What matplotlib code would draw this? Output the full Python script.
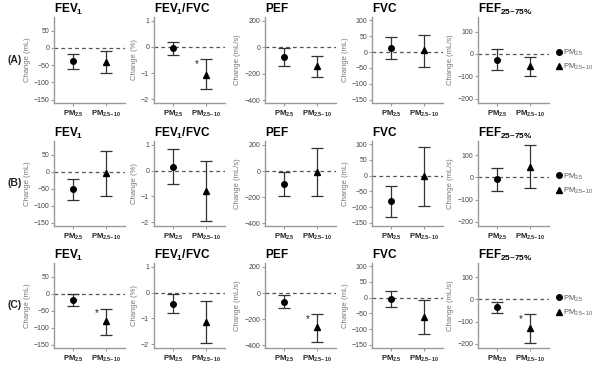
import matplotlib
matplotlib.use("Agg")
import matplotlib.pyplot as plt
from matplotlib.lines import Line2D

plt.rcParams['font.family'] = ['Liberation Sans', 'DejaVu Sans']
plt.rcParams['mathtext.fontset'] = 'custom'
plt.rcParams['mathtext.rm'] = 'Liberation Sans'
plt.rcParams['mathtext.bf'] = 'Liberation Sans:bold'

outcomes = ["FEV1", "FEV1/FVC", "PEF", "FVC", "FEF25-75%"]
titles = [r"$\mathbf{FEV_1}$", r"$\mathbf{FEV_1/FVC}$", r"$\mathbf{PEF}$",
          r"$\mathbf{FVC}$", r"$\mathbf{FEF_{25\mathrm{-}75\%}}$"]
ylabels = ["Change (mL)", "Change (%)", "Change (mL/s)", "Change (mL)", "Change (mL/s)"]
row_labels = ["(A)", "(B)", "(C)"]
pollutants = [r"$\mathbf{PM_{2.5}}$", r"$\mathbf{PM_{2.5\mathrm{-}10}}$"]
legend_labels = [r"PM$_{2.5}$", r"PM$_{2.5\mathrm{-}10}$"]

yticks = [[-150, -100, -50, 0, 50], [-2, -1, 0, 1], [-400, -200, 0, 200],
          [-150, -100, -50, 0, 50, 100], [-200, -100, 0, 100]]
ylims = [(-160, 90), (-2.15, 1.15), (-420, 230), (-160, 110), (-220, 165)]

# Row A
a_pm25_est = [-39, -0.05, -73, 14, -27]
a_pm25_lo = [-61, -0.29, -144, -21, -73]
a_pm25_hi = [-19, 0.20, -8, 47, 21]
a_pm10_est = [-40, -1.06, -137, 5, -55]
a_pm10_lo = [-74, -1.63, -220, -47, -100]
a_pm10_hi = [-8, -0.48, -61, 55, -12]
a_star = [False, True, False, False, False]

# Row B
b_pm25_est = [-52, 0.15, -97, -81, -9]
b_pm25_lo = [-83, -0.53, -192, -131, -62]
b_pm25_hi = [-22, 0.84, -8, -33, 43]
b_pm10_est = [-4, -0.78, -8, 0, 47]
b_pm10_lo = [-72, -1.95, -192, -97, -50]
b_pm10_hi = [62, 0.37, 180, 91, 147]
b_star = [False, False, False, False, False]

# Row C
c_pm25_est = [-19, -0.43, -66, -3, -36]
c_pm25_lo = [-36, -0.81, -116, -30, -61]
c_pm25_hi = [-2, -0.04, -15, 21, -10]
c_pm10_est = [-81, -1.15, -263, -62, -129]
c_pm10_lo = [-122, -1.96, -372, -116, -197]
c_pm10_hi = [-44, -0.34, -157, -7, -67]
c_star = [True, False, True, False, True]

rows = [
    (a_pm25_est, a_pm25_lo, a_pm25_hi, a_pm10_est, a_pm10_lo, a_pm10_hi, a_star),
    (b_pm25_est, b_pm25_lo, b_pm25_hi, b_pm10_est, b_pm10_lo, b_pm10_hi, b_star),
    (c_pm25_est, c_pm25_lo, c_pm25_hi, c_pm10_est, c_pm10_lo, c_pm10_hi, c_star),
]

W, H = 600, 370
fig = plt.figure(figsize=(6, 3.7), dpi=100)

col_left = [54, 154, 265, 372, 478]
col_w = 71
row_top = [17, 141, 263]
row_bot = [103, 226, 348]

spine_c = "#9a9a9a"
txt_c = "#444444"
bar_c = "#333333"

for r, (e1, l1, h1, e2, l2, h2, st) in enumerate(rows):
    for c in range(5):
        x0 = col_left[c] / W
        y0 = 1 - row_bot[r] / H
        ax = fig.add_axes([x0, y0, col_w / W, (row_bot[r] - row_top[r]) / H])
        ax.set_xlim(0.41, 2.59)
        ax.set_ylim(*ylims[c])
        ax.set_yticks(yticks[c])
        ax.set_yticklabels([f"{t}".replace("-", "\u2212") for t in yticks[c]])
        ax.set_xticks([1, 2])
        ax.set_xticklabels(pollutants)
        for s in ["top", "right"]:
            ax.spines[s].set_visible(False)
        for s in ["left", "bottom"]:
            ax.spines[s].set_color(spine_c)
            ax.spines[s].set_linewidth(1.0)
        ax.tick_params(axis="y", labelsize=5, colors=spine_c, labelcolor=txt_c,
                       length=2, width=0.8, pad=1.5)
        ax.tick_params(axis="x", labelsize=5.5, colors=spine_c, labelcolor="#222222",
                       length=2, width=0.8, pad=2)
        ax.set_ylabel(ylabels[c], fontsize=5.5, color="#777777", labelpad=2)
        ax.axhline(0, color="#555555", lw=0.9, ls=(0, (3, 2.5)), zorder=1)
        ax.errorbar([1], [e1[c]], yerr=[[e1[c] - l1[c]], [h1[c] - e1[c]]],
                    fmt="o", color="black", ecolor=bar_c, elinewidth=0.9,
                    capsize=4.5, capthick=0.9, markersize=4, zorder=3)
        ax.errorbar([2], [e2[c]], yerr=[[e2[c] - l2[c]], [h2[c] - e2[c]]],
                    fmt="^", color="black", ecolor=bar_c, elinewidth=0.9,
                    capsize=4.5, capthick=0.9, markersize=4.5, zorder=3)
        if st[c]:
            ax.text(1.72, h2[c], "*", fontsize=7, ha="center", va="top", color="#222222")
        fig.text(x0, (H - row_top[r] + 8) / H, titles[c],
                 fontsize=8.5, ha="left", va="center")
        if c == 4:
            handles = [Line2D([], [], marker="o", color="black", ls="none", markersize=4),
                       Line2D([], [], marker="^", color="black", ls="none", markersize=4.5)]
            ax.legend(handles, legend_labels, loc="center left",
                      bbox_to_anchor=(1.02, 0.5), frameon=False, fontsize=5.5,
                      handletextpad=0.1, labelspacing=0.5, handlelength=1.0,
                      borderaxespad=0.2, labelcolor="#555555")
    fig.text(8 / W, 1 - ((row_top[r] + row_bot[r]) / 2) / H, row_labels[r],
             fontsize=7.5, fontweight="bold", color="#222222", ha="left", va="center")

fig.savefig("out.png", dpi=100)
